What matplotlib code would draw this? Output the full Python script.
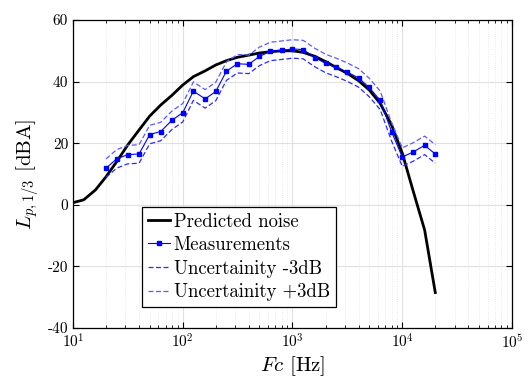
import matplotlib
matplotlib.use('Agg')
import matplotlib.pyplot as plt

plt.rcParams['font.family'] = 'serif'
plt.rcParams['font.serif'] = ['cmr10']
plt.rcParams['mathtext.fontset'] = 'cm'
plt.rcParams['axes.formatter.use_mathtext'] = True

# predicted noise, third octave bands 10 Hz - 20 kHz
f_pred = [10, 12.5, 16, 20, 25, 31.5, 40, 50, 63, 80, 100, 125, 160, 200, 250,
          315, 400, 500, 630, 800, 1000, 1250, 1600, 2000, 2500, 3150, 4000,
          5000, 6300, 8000, 10000, 12500, 16000, 20000]
L_pred = [0.7, 1.6, 4.8, 9.1, 14.0, 19.4, 24.3, 28.8, 32.4, 35.6, 38.9, 41.6,
          43.5, 45.4, 46.8, 47.9, 48.6, 49.3, 49.7, 50.0, 50.0, 49.5, 48.2,
          46.5, 44.6, 42.7, 40.3, 37.3, 32.9, 25.9, 16.8, 4.8, -8.2, -28.5]

# measurements 20 Hz - 20 kHz
f_meas = [20, 25, 31.5, 40, 50, 63, 80, 100, 125, 160, 200, 250, 315, 400, 500,
          630, 800, 1000, 1250, 1600, 2000, 2500, 3150, 4000, 5000, 6300, 8000,
          10000, 12500, 16000, 20000]
L_meas = [11.9, 14.9, 16.3, 16.5, 22.8, 23.8, 27.5, 29.9, 36.9, 34.4, 36.8,
          43.4, 45.8, 45.6, 48.2, 49.8, 50.2, 50.6, 50.4, 47.8, 45.9, 44.6,
          43.1, 41.2, 38.1, 33.9, 23.7, 15.5, 17.1, 19.3, 16.5]
L_low = [8.9, 11.9, 13.3, 13.5, 19.8, 20.8, 24.5, 26.9, 33.9, 31.4, 33.8, 40.4,
         42.8, 42.6, 45.2, 46.8, 47.2, 47.6, 47.4, 44.8, 42.9, 41.6, 40.1, 38.2,
         35.1, 30.9, 20.7, 12.5, 14.1, 16.3, 13.5]
L_high = [14.9, 17.9, 19.3, 19.5, 25.8, 26.8, 30.5, 32.9, 39.9, 37.4, 39.8,
          46.4, 48.8, 48.6, 51.2, 52.8, 53.2, 53.6, 53.4, 50.8, 48.9, 47.6,
          46.1, 44.2, 41.1, 36.9, 26.7, 18.5, 20.1, 22.3, 19.5]

yticks = [-40, -20, 0, 20, 40, 60]
ytick_labels = ['-40', '-20', '0', '20', '40', '60']

fig = plt.figure(figsize=(5.32, 3.82), dpi=100)
ax = fig.add_axes([0.1372, 0.1414, 0.8252, 0.8062])

ax.semilogx(f_pred, L_pred, color='k', lw=2, label='Predicted noise')
ax.semilogx(f_meas, L_meas, color='b', lw=0.8, marker='s', markersize=3.5,
            label='Measurements')
ax.semilogx(f_meas, L_low, color='#2a2aff', lw=0.9, ls=(0, (4, 2)),
            label='Uncertainity -3dB')
ax.semilogx(f_meas, L_high, color='#5a5aff', lw=0.9, ls=(0, (4, 2)),
            label='Uncertainity +3dB')

ax.set_xlim(10, 1e5)
ax.set_ylim(-40, 60)
ax.set_yticks(yticks, labels=ytick_labels)

ax.grid(True, which='major', color='#e0e0e0', lw=0.8)
ax.grid(True, which='minor', axis='x', color='#e4e4e4', lw=0.6, ls=':')
ax.set_axisbelow(True)

ax.tick_params(which='both', direction='in', top=True, right=True, labelsize=11)
ax.tick_params(which='major', length=4)
ax.tick_params(which='minor', length=2.5)
for s in ax.spines.values():
    s.set_linewidth(0.9)

ax.set_xlabel(r'$Fc$ [Hz]', fontsize=15, labelpad=2)
ax.set_ylabel(r'$L_{p,1/3}$ [dBA]', fontsize=15, labelpad=4)

leg = ax.legend(loc='upper left', bbox_to_anchor=(0.157, 0.393), borderaxespad=0,
                fontsize=13.5, fancybox=False, edgecolor='k', framealpha=1,
                handlelength=1.2, handletextpad=0.2, borderpad=0.3,
                labelspacing=0.3)
leg.get_frame().set_linewidth(0.9)

fig.savefig('out.png', dpi=100)
